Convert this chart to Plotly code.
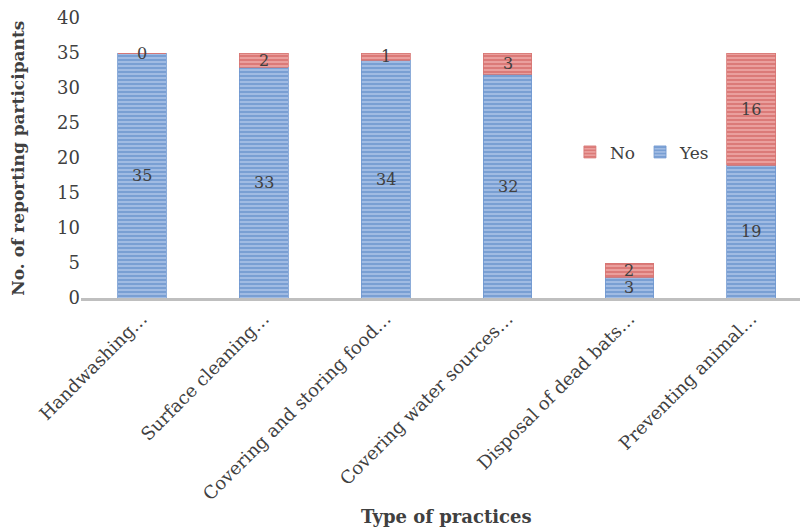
import plotly.graph_objects as go

categories = [
    "Handwashing…",
    "Surface cleaning…",
    "Covering and storing food…",
    "Covering water sources…",
    "Disposal of dead bats…",
    "Preventing animal…",
]
yes_values = [35, 33, 34, 32, 3, 19]
no_values = [0, 2, 1, 3, 2, 16]
y_ticks = [0, 5, 10, 15, 20, 25, 30, 35, 40]

FONT = "DejaVu Serif"
TEXT_COL = "#404040"

fig = go.Figure()
fig.add_trace(go.Bar(
    x=categories, y=yes_values, name="Yes", width=0.4,
    marker=dict(color="#A9C2E6", line=dict(color="#6F97D0", width=0.8),
                pattern=dict(shape="-", fgcolor="#4A7BBF", size=4, solidity=0.6,
                             fillmode="overlay")),
))
fig.add_trace(go.Bar(
    x=categories, y=no_values, name="No", width=0.4,
    marker=dict(color="#EDA8A6", line=dict(color="#D77573", width=0.8),
                pattern=dict(shape="-", fgcolor="#C94B49", size=4, solidity=0.6,
                             fillmode="overlay")),
))

# value labels centred within each segment
annotations = []
for c, yv, nv in zip(categories, yes_values, no_values):
    annotations.append(dict(x=c, y=yv / 2, text=str(yv), showarrow=False,
                            font=dict(family=FONT, size=16, color=TEXT_COL)))
    annotations.append(dict(x=c, y=yv + nv / 2, text=str(nv), showarrow=False,
                            font=dict(family=FONT, size=16, color=TEXT_COL)))

# axis titles placed in paper coordinates so the plot area keeps its size
annotations.append(dict(xref="paper", yref="paper", x=0.508, y=-0.78,
                        yanchor="middle", text="<b>Type of practices</b>",
                        showarrow=False,
                        font=dict(family=FONT, size=18, color=TEXT_COL)))
annotations.append(dict(xref="paper", yref="paper", x=-0.088, y=0.5,
                        xanchor="center", textangle=-90,
                        text="<b>No. of reporting participants</b>",
                        showarrow=False,
                        font=dict(family=FONT, size=17, color=TEXT_COL)))

fig.update_layout(
    barmode="stack",
    width=800, height=530,
    margin=dict(l=81, r=0, t=18, b=232),
    paper_bgcolor="white", plot_bgcolor="white",
    font=dict(family=FONT, color=TEXT_COL),
    annotations=annotations,
    legend=dict(orientation="h", x=0.68, y=0.52, xanchor="left", yanchor="middle",
                traceorder="reversed", font=dict(family=FONT, size=17, color=TEXT_COL),
                bgcolor="rgba(0,0,0,0)", itemwidth=30),
    xaxis=dict(
        range=[-0.5, 5.4], tickangle=-45, showgrid=False, automargin=False,
        showline=True, linecolor="#BFBFBF", linewidth=3,
        tickfont=dict(family=FONT, size=18, color=TEXT_COL), ticks="",
    ),
    yaxis=dict(
        range=[0, 40], tickvals=y_ticks, showgrid=False, zeroline=False,
        showline=False, ticks="", automargin=False,
        tickfont=dict(family=FONT, size=18, color=TEXT_COL),
    ),
)

fig.write_html("out.html")
